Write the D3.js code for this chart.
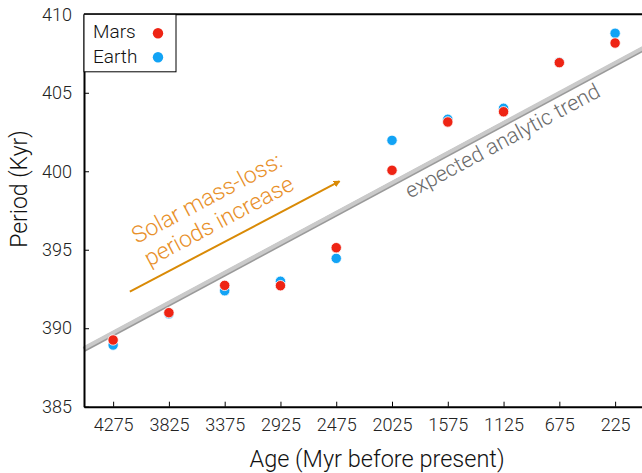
<!DOCTYPE html>
<html>
<head>
<meta charset="utf-8">
<script src="https://cdn.jsdelivr.net/npm/d3@7"></script>
<style>
  html, body { margin: 0; padding: 0; background: #fff; }
  svg { display: block; }
  text { font-family: Roboto, "Liberation Sans", sans-serif; font-weight: 300; }
</style>
</head>
<body>
<svg id="chart" width="642" height="473"></svg>
<script>
// ---- data ----
const ages = [4275, 3825, 3375, 2925, 2475, 2025, 1575, 1125, 675, 225];
const tickLabels = ["4275", "3825", "3375", "2925", "2475", "2025", "1575", "1125", "675", "225"];
const marsPeriods  = [389.25, 390.99, 392.73, 392.71, 395.13, 400.06, 403.14, 403.79, 406.92, 408.17];
const earthPeriods = [388.93, 390.92, 392.39, 392.99, 394.45, 401.97, 403.31, 404.01, 406.95, 408.79];
const yTicks = [385, 390, 395, 400, 405, 410];
const trendAges = [4510, 0];
const trendPeriods = [388.72, 407.85];
const seriesNames = ["Mars", "Earth"];
const seriesColors = ["#ee2414", "#12a3f5"];

// ---- layout ----
const svg = d3.select("#chart");
const x = d3.scaleLinear().domain([4510, 0]).range([84, 643]);
const y = d3.scaleLinear().domain([385, 410]).range([406.7, 14.3]);

// trend line (gray with darker lower edge)
const trendPts = trendAges.map((a, i) => [x(a), y(trendPeriods[i])]);
const lineGen = d3.line();
svg.append("path").attr("d", lineGen(trendPts))
  .attr("transform", "translate(0,1.2)")
  .attr("stroke", "#9a9a9a").attr("stroke-width", 5).attr("fill", "none");
svg.append("path").attr("d", lineGen(trendPts))
  .attr("stroke", "#cacaca").attr("stroke-width", 4).attr("fill", "none");

const trendAngle = Math.atan2(trendPts[1][1] - trendPts[0][1], trendPts[1][0] - trendPts[0][0]) * 180 / Math.PI;

// axes
const xAxis = d3.axisBottom(x).tickValues(ages).tickFormat((d, i) => tickLabels[i])
  .tickSizeInner(-5).tickSizeOuter(0).tickPadding(12);
const gx = svg.append("g").attr("transform", `translate(0,${y(385)})`).call(xAxis);
gx.select(".domain").attr("stroke", "#000").attr("stroke-width", 2);
gx.selectAll(".tick line").attr("stroke", "#000").attr("stroke-width", 1);
gx.selectAll(".tick text").attr("font-size", 18).attr("fill", "#222")
  .attr("font-family", "Roboto, 'Liberation Sans', sans-serif").attr("font-weight", 300);

const yAxis = d3.axisLeft(y).tickValues(yTicks).tickFormat(d3.format("d"))
  .tickSizeInner(-5).tickSizeOuter(0).tickPadding(12);
const gy = svg.append("g").attr("transform", `translate(${x(4510)},0)`).call(yAxis);
gy.select(".domain").attr("stroke", "#000").attr("stroke-width", 2);
gy.selectAll(".tick line").attr("stroke", "#000").attr("stroke-width", 1);
gy.selectAll(".tick text").attr("font-size", 18).attr("fill", "#222")
  .attr("font-family", "Roboto, 'Liberation Sans', sans-serif").attr("font-weight", 300);

// top frame line
svg.append("line").attr("x1", x(4510)).attr("x2", 642).attr("y1", y(410)).attr("y2", y(410))
  .attr("stroke", "#000").attr("stroke-width", 2);

// points: Earth below, Mars on top
const series = [earthPeriods, marsPeriods];
const colorsOrdered = [seriesColors[1], seriesColors[0]];
series.forEach((vals, si) => {
  svg.append("g").selectAll("circle").data(vals).join("circle")
    .attr("cx", (d, i) => x(ages[i]))
    .attr("cy", d => y(d))
    .attr("r", 5.2)
    .attr("fill", colorsOrdered[si])
    .attr("stroke", "#fff").attr("stroke-width", 0.8);
});

// annotation arrow
const defs = svg.append("defs");
defs.append("marker").attr("id", "ah").attr("viewBox", "0 0 10 10")
  .attr("refX", 8).attr("refY", 5).attr("markerWidth", 7).attr("markerHeight", 7)
  .attr("markerUnits", "userSpaceOnUse").attr("orient", "auto")
  .append("path").attr("d", "M0,0 L10,5 L0,10 Z").attr("fill", "#d98a06");
svg.append("line")
  .attr("x1", x(4140)).attr("y1", y(392.33))
  .attr("x2", x(2450)).attr("y2", y(399.35))
  .attr("stroke", "#d98a06").attr("stroke-width", 2)
  .attr("marker-end", "url(#ah)");

// orange annotation text
const og = svg.append("g")
  .attr("transform", `translate(${x(3470)},${y(397.55)}) rotate(-28)`);
og.append("text").attr("text-anchor", "middle").attr("dominant-baseline", "central")
  .attr("y", -13).attr("font-size", 23).attr("fill", "#e8902a").text("Solar mass-loss:");
og.append("text").attr("text-anchor", "middle").attr("dominant-baseline", "central")
  .attr("y", 13).attr("font-size", 23).attr("fill", "#e8902a").text("periods increase");

// trend label
svg.append("text")
  .attr("transform", `translate(${x(1135)},${y(401.95)}) rotate(${trendAngle})`)
  .attr("text-anchor", "middle").attr("dominant-baseline", "central")
  .attr("font-size", 21.5).attr("fill", "#6a6a6a").text("expected analytic trend");

// axis titles
svg.append("text").attr("x", 377).attr("y", 467).attr("text-anchor", "middle")
  .attr("font-size", 23.5).attr("fill", "#111").text("Age (Myr before present)");
svg.append("text").attr("transform", "translate(19,189) rotate(-90)")
  .attr("text-anchor", "middle").attr("dominant-baseline", "central")
  .attr("font-size", 23).attr("fill", "#111").text("Period (Kyr)");

// legend
const lg = svg.append("g");
lg.append("rect").attr("x", x(4510)).attr("y", y(410)).attr("width", 92).attr("height", 57.5)
  .attr("fill", "#fff").attr("stroke", "#000").attr("stroke-width", 1);
seriesNames.forEach((n, i) => {
  lg.append("text").attr("x", 93).attr("y", 38 + i * 25).attr("font-size", 19)
    .attr("fill", "#111").text(n);
  lg.append("circle").attr("cx", 158).attr("cy", 33.3 + i * 24).attr("r", 5.2)
    .attr("fill", seriesColors[i]);
});
</script>
</body>
</html>
